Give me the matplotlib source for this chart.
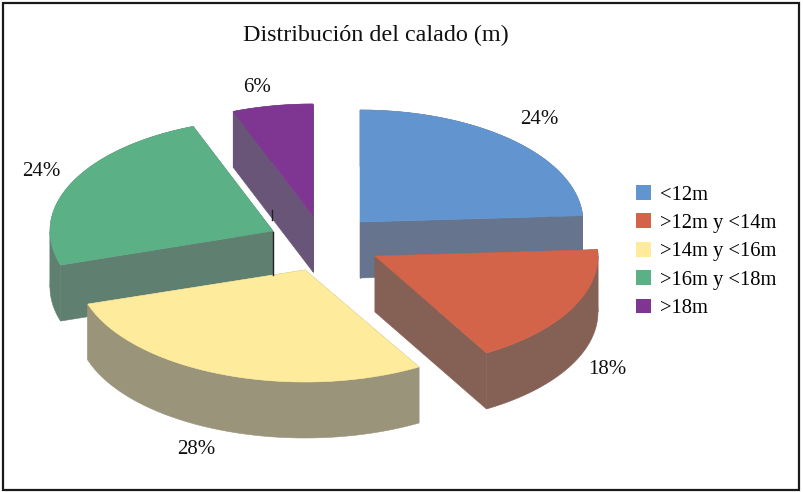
import numpy as np
import matplotlib
matplotlib.use('Agg')
import matplotlib.pyplot as plt
from matplotlib.patches import Polygon, Patch, Rectangle

plt.rcParams['font.family'] = ['Liberation Serif', 'DejaVu Serif']

title = 'Distribución del calado (m)'
labels = ['<12m', '>12m y <14m', '>14m y <16m', '>16m y <18m', '>18m']
values = [24.0, 17.5, 28.3, 24.0, 5.8]
top_colors = ['#6295cf', '#d3644a', '#ffeb9c', '#5cb086', '#7f3693']
side_colors = ['#66758d', '#856055', '#99947a', '#5f8070', '#695578']

# layout in pixels of the 804x492 picture
centers = [(360, 222), (375, 256), (305, 270), (273, 231), (313, 216)]
radii = [223, 223, 228, 223, 223]
label_pos = [(539, 120), (607, 370), (196, 449), (41, 172), (257, 87)]
ry, depth = 112, 56
draw_order = [4, 0, 3, 2, 1]

fig = plt.figure(figsize=(8.04, 4.92), dpi=100)
ax = fig.add_axes([0, 0, 1, 1])
ax.set_xlim(0, 804)
ax.set_ylim(492, 0)
ax.axis('off')

ax.add_patch(Rectangle((3.5, 2.5), 796, 487, fc='white', ec='#1a1a1a', lw=1.6))

fracs = np.array(values) / sum(values)
ends = 90 - 360 * np.cumsum(fracs)
starts = np.r_[90, ends[:-1]]


def wall(xs, ys, color):
    pts = np.r_[np.c_[xs, ys], np.c_[xs, ys + depth][::-1]]
    ax.add_patch(Polygon(pts, fc=color, ec=color, lw=0.4))


for i in draw_order:
    cx, cy = centers[i]
    t = np.radians(np.linspace(starts[i], ends[i], 120))
    arc_x = cx + radii[i] * np.cos(t)
    arc_y = cy - ry * np.sin(t)
    # cut faces
    wall(np.r_[cx, arc_x[0]], np.r_[cy, arc_y[0]], side_colors[i])
    wall(np.r_[cx, arc_x[-1]], np.r_[cy, arc_y[-1]], side_colors[i])
    # outer wall, split where the arc turns back so the strip does not cross itself
    cuts = sorted({0, int(arc_x.argmin()), int(arc_x.argmax()), len(t) - 1})
    for a, b in zip(cuts[:-1], cuts[1:]):
        wall(arc_x[a:b + 1], arc_y[a:b + 1], side_colors[i])
    ax.add_patch(Polygon(np.c_[np.r_[cx, arc_x], np.r_[cy, arc_y]],
                         fc=top_colors[i], ec=top_colors[i], lw=0.4))

# stray dark lines next to the green slice
ax.plot([273, 273], [232, 275], color='#222222', lw=1)
ax.plot([272.5, 272.5], [210, 220], color='#222222', lw=1)

for i, (x, y) in enumerate(label_pos):
    ax.text(x, y, f'{fracs[i] * 100:.0f}%', ha='center', va='center', fontsize=15, color='#111111')

ax.text(376, 35, title, ha='center', va='center', fontsize=17.4, color='#111111')

handles = [Patch(fc=c, ec='none', label=l) for c, l in zip(top_colors, labels)]
ax.legend(handles=handles, loc='upper left', bbox_to_anchor=(636 / 804, 1 - 185 / 492),
          frameon=False, fontsize=14.8, handlelength=0.73, handleheight=0.73,
          handletextpad=0.44, labelspacing=0.43, borderpad=0, borderaxespad=0)

fig.savefig('out.png', dpi=100, facecolor='white')
